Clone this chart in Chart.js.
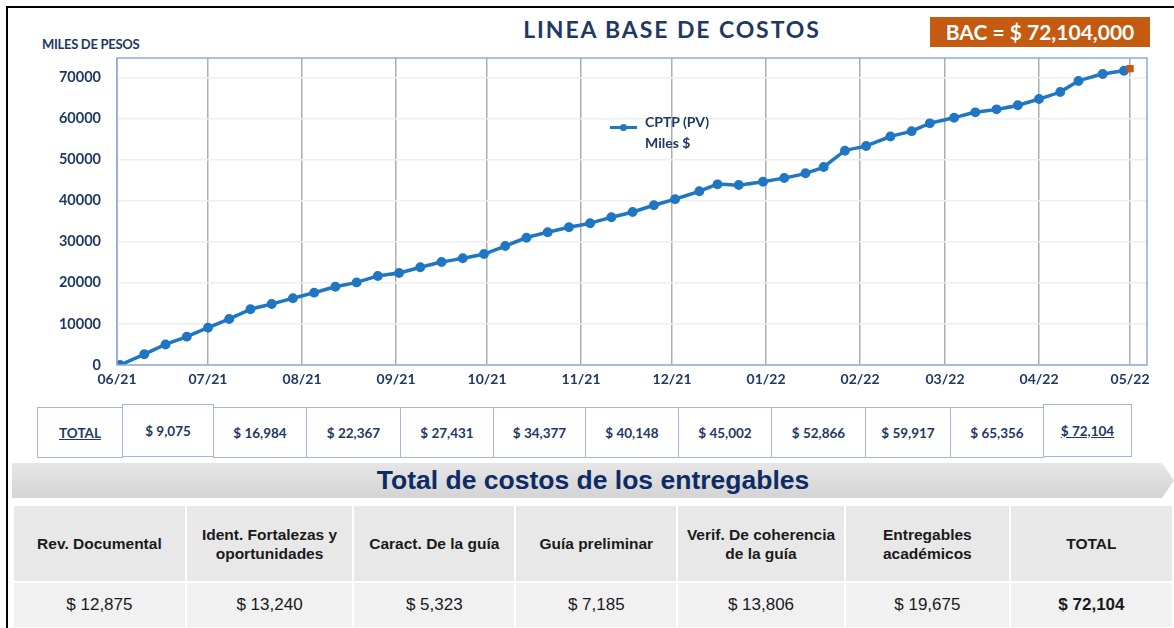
<!DOCTYPE html>
<html lang="es">
  <head>
    <meta charset="UTF-8" />
    <title>Linea base de costos</title>
    <script src="https://cdn.jsdelivr.net/npm/chart.js"></script>
    <style>
      html, body { margin: 0; padding: 0; background: #fff; }
      body { width: 1174px; height: 628px; position: relative; overflow: hidden; font-family: Lato, "Open Sans", sans-serif; }
      .marco { position: absolute; left: 6px; top: 6px; right: -4px; bottom: -4px; border-left: 2px solid #000; border-top: 2px solid #000; }
      #grafico { position: absolute; left: 0; top: 0; width: 1174px; height: 400px; }
      .titulo { position: absolute; left: 422px; top: 15px; width: 500px; text-align: center; font-weight: bold; font-size: 23px; letter-spacing: 1.9px; color: #1f3864; }
      .miles { position: absolute; left: 42px; top: 36px; font-weight: bold; font-size: 13px; color: #1f3864; letter-spacing: -0.3px; }
      .bac { position: absolute; left: 930px; top: 17px; width: 220px; height: 30px; background: #c55a11; color: #fff; font-weight: bold; font-size: 21px; line-height: 30px; text-align: center; }
      .leyenda { position: absolute; left: 608px; top: 111px; color: #1f3864; font-weight: bold; font-size: 14px; line-height: 21px; }
      .leyenda .linea { position: absolute; left: 2px; top: 15px; width: 27px; height: 2.5px; background: #1f77c4; }
      .leyenda .punto { position: absolute; left: 12px; top: 12.5px; width: 7px; height: 7px; border-radius: 50%; background: #1f77c4; }
      .leyenda .txt { position: absolute; left: 37px; top: 0; white-space: nowrap; }
      .celda { position: absolute; box-sizing: border-box; border: 1px solid #a4b8de; background: #fff; color: #1f3864; font-weight: bold; font-size: 13.5px; display: flex; align-items: center; justify-content: center; }
      .banda { position: absolute; left: 12px; top: 463px; width: 1162px; height: 35px; background: linear-gradient(#e6e6e6, #d4d4d4); clip-path: polygon(0 0, 1150px 0, 1162px 50%, 1150px 100%, 0 100%); }
      .banda span { position: absolute; left: 0; width: 1162px; top: 2px; text-align: center; font-family: "Liberation Sans", Arial, sans-serif; font-weight: bold; font-size: 26.5px; color: #0f2b66; }
      .tabla { position: absolute; left: 12px; top: 504px; border-collapse: collapse; font-family: "Liberation Sans", Arial, sans-serif; color: #1a1a1a; }
      .tabla td { border: 2px solid #fff; text-align: center; padding: 0; }
      .tabla tr.cab td { background: #e8e8e8; height: 75px; font-weight: bold; font-size: 15.5px; line-height: 19px; }
      .tabla tr.val td { background: #f1f1f1; height: 44px; font-size: 17px; }
    </style>
  </head>
  <body>
    <div class="marco"></div>
    <div class="titulo">LINEA BASE DE COSTOS</div>
    <div class="miles">MILES DE PESOS</div>
    <div class="bac">BAC = $ 72,104,000</div>
    <div id="grafico"><canvas id="myChart"></canvas></div>
    <div class="leyenda">
      <div class="linea"></div><div class="punto"></div>
      <div class="txt">CPTP (PV)<br />Miles $</div>
    </div>
    <div id="totales"></div>
    <div class="banda"><span>Total de costos de los entregables</span></div>
    <table class="tabla" id="entregables"></table>
    <script>
// dias desde 01/06/21 de cada corte semanal
const dias = [1, 9, 16, 23, 30, 37, 44, 51, 58, 65, 72, 79, 86, 93, 100, 107,
  114, 121, 128, 135, 142, 149, 156, 163, 170, 177, 184, 192, 198, 205, 213, 220,
  227, 233, 240, 247, 255, 262, 268, 276, 283, 290, 297, 304, 311, 317, 325, 332];
// CPTP acumulado (miles $)
const cptp = [0, 2600, 5000, 6900, 9075, 11200, 13550, 14840, 16230, 17600, 19050,
  20100, 21650, 22400, 23770, 25060, 25960, 27000, 28950, 30970, 32290, 33500,
  34480, 35940, 37230, 38860, 40350, 42260, 43960, 43800, 44600, 45500, 46640,
  48180, 52140, 53280, 55600, 56900, 58800, 60170, 61480, 62200, 63190, 64720,
  66420, 69100, 70800, 71600];
const diaBac = 334;
const valorBac = 72104;

const mesesDia = [0, 30, 61, 92, 122, 153, 183, 214, 245, 273, 304, 334];
const mesesLabel = ["06/21", "07/21", "08/21", "09/21", "10/21", "11/21", "12/21",
  "01/22", "02/22", "03/22", "04/22", "05/22"];
const yTicks = [0, 10000, 20000, 30000, 40000, 50000, 60000, 70000];

const totalesMes = ["$ 9,075", "$ 16,984", "$ 22,367", "$ 27,431", "$ 34,377",
  "$ 40,148", "$ 45,002", "$ 52,866", "$ 59,917", "$ 65,356", "$ 72,104"];

const entregables = ["Rev. Documental", "Ident. Fortalezas y<br>oportunidades",
  "Caract. De la guía", "Guía preliminar", "Verif. De coherencia<br>de la guía",
  "Entregables<br>académicos", "TOTAL"];
const costosEntregables = ["$ 12,875", "$ 13,240", "$ 5,323", "$ 7,185",
  "$ 13,806", "$ 19,675", "$ 72,104"];

// marco azul del area de trazado
const marcoPlot = {
  id: "marcoPlot",
  afterDraw(chart) {
    const a = chart.chartArea, c = chart.ctx;
    c.save();
    c.strokeStyle = "#8faadc";
    c.lineWidth = 1.5;
    c.strokeRect(a.left, a.top, a.right - a.left, a.bottom - a.top);
    c.restore();
  }
};

const ctx = document.getElementById("myChart");
new Chart(ctx, {
  type: "line",
  data: {
    datasets: [
      {
        label: "CPTP (PV) Miles $",
        data: dias.map((d, i) => ({ x: d, y: cptp[i] })),
        borderColor: "#1f77c4",
        backgroundColor: "#1f77c4",
        borderWidth: 3.5,
        pointRadius: 3.2,
        pointHoverRadius: 3.2,
        tension: 0.1,
        order: 2
      },
      {
        label: "BAC",
        data: [{ x: diaBac, y: valorBac }],
        showLine: false,
        pointStyle: "rect",
        pointRadius: 4.5,
        backgroundColor: "#c55a11",
        borderColor: "#c55a11",
        order: 1
      }
    ]
  },
  options: {
    responsive: true,
    maintainAspectRatio: false,
    animation: false,
    layout: { padding: { left: 0, top: 58, right: 27, bottom: 0 } },
    scales: {
      x: {
        type: "linear",
        min: 0,
        max: 339.6,
        afterBuildTicks: s => { s.ticks = mesesDia.map(v => ({ value: v })); },
        afterFit: s => { s.height = 35; },
        ticks: {
          autoSkip: false,
          maxRotation: 0,
          padding: 6,
          color: "#1f3864",
          font: { family: "Lato", size: 14, weight: "bold" },
          callback: v => mesesLabel[mesesDia.indexOf(v)]
        },
        grid: { color: "#adadad", lineWidth: 1.5, drawTicks: false },
        border: { display: false }
      },
      y: {
        min: 0,
        max: 74700,
        afterBuildTicks: s => { s.ticks = yTicks.map(v => ({ value: v })); },
        afterFit: s => { s.width = 117; },
        ticks: {
          padding: 16,
          color: "#1f3864",
          font: { family: "Lato", size: 14.5, weight: "bold" },
          callback: v => String(v)
        },
        grid: { color: "#eeeeee", lineWidth: 1.5, drawTicks: false },
        border: { display: false }
      }
    },
    plugins: {
      legend: { display: false },
      tooltip: { enabled: false }
    }
  },
  plugins: [marcoPlot]
});

// fila de totales por mes
const cont = document.getElementById("totales");
const bordes = [122, 213, 306, 400, 493, 585, 678, 771, 865, 950, 1043, 1131];
let html = '<div class="celda" style="left:37px;top:407px;width:86px;height:51px;text-decoration:underline">TOTAL</div>';
totalesMes.forEach((t, i) => {
  const alto = (i === 0 || i === totalesMes.length - 1);
  const top = alto ? 404 : 407;
  const st = i === totalesMes.length - 1 ? "text-decoration:underline;" : "";
  html += `<div class="celda" style="${st}left:${bordes[i]}px;top:${top}px;width:${bordes[i + 1] - bordes[i] + 1}px;height:${alto ? 53 : 51}px">${t}</div>`;
});
cont.innerHTML = html;

// tabla de entregables
const anchos = [173, 167, 163, 162, 168, 165, 164];
const tabla = document.getElementById("entregables");
tabla.innerHTML =
  '<tr class="cab">' + entregables.map((e, i) => `<td style="width:${anchos[i]}px">${e}</td>`).join("") + "</tr>" +
  '<tr class="val">' + costosEntregables.map((c, i) => `<td${i === 6 ? ' style="font-weight:bold"' : ""}>${c}</td>`).join("") + "</tr>";
    </script>
  </body>
</html>
